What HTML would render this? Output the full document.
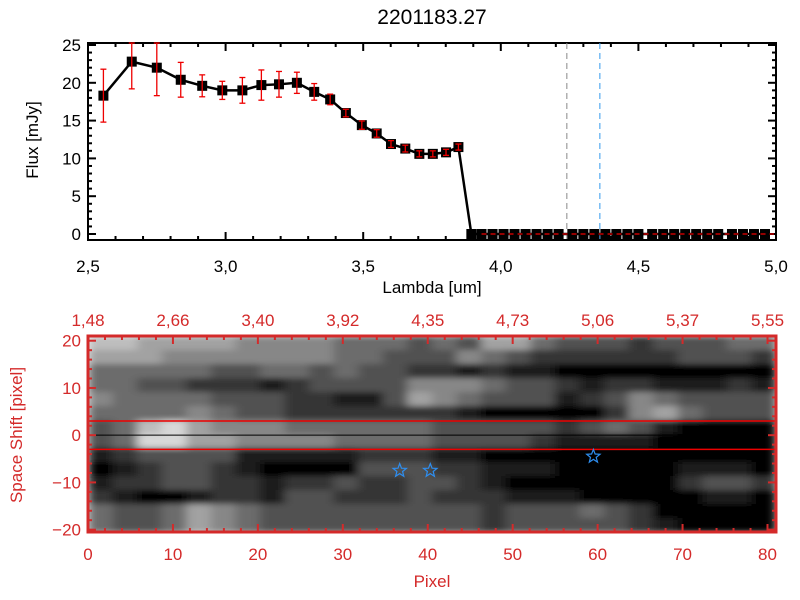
<!DOCTYPE html>
<html><head><meta charset="utf-8"><style>
html,body{margin:0;padding:0;background:#fff;}
svg{display:block;font-family:"Liberation Sans","DejaVu Sans",sans-serif;}
</style></head><body>
<svg id="chart" width="800" height="600" viewBox="0 0 800 600" xmlns="http://www.w3.org/2000/svg">
<defs>
<filter id="blur" x="0" y="0" width="1" height="1"><feGaussianBlur stdDeviation="5,3" edgeMode="duplicate"/></filter>
<clipPath id="imgclip"><rect x="88" y="336" width="688" height="196"/></clipPath>
</defs>
<rect width="800" height="600" fill="#fff"/>
<text x="432" y="24" font-size="21" text-anchor="middle" fill="#000">2201183.27</text>
<g id="top"></g>
<g id="bot"></g>
</svg>
<script>
const lambdas=[2.556,2.659,2.750,2.837,2.915,2.988,3.061,3.130,3.194,3.259,3.322,3.380,3.437,3.495,3.549,3.601,3.653,3.704,3.753,3.801,3.846,3.893,
3.93,3.97,4.01,4.05,4.09,4.13,4.17,4.21,4.26,4.30,4.34,4.38,4.42,4.46,4.50,4.55,4.59,4.63,4.67,4.71,4.75,4.79,4.84,4.88,4.92,4.96];
const flux=[18.3,22.8,22.0,20.4,19.6,19.0,19.0,19.7,19.8,20.0,18.8,17.8,16.0,14.4,13.3,11.9,11.3,10.6,10.6,10.8,11.5,
0,0,0,0,0,0,0,0,0,0,0,0,0,0,0,0,0,0,0,0,0,0,0,0,0,0,0];
const fluxErr=[3.5,3.6,3.7,2.3,1.45,1.2,1.7,2.0,1.7,1.4,1.1,0.7,0.5,0.55,0.5,0.45,0.45,0.4,0.4,0.4,0.4,
0,0,0,0,0,0,0,0,0,0,0,0,0,0,0,0,0,0,0,0,0,0,0,0,0,0,0];
const xTicks=["2.5","3.0","3.5","4.0","4.5","5.0"];
const yTicks=["0","5","10","15","20","25"];
const vLines=[4.24,4.36];
const pixTicks=["0","10","20","30","40","50","60","70","80"];
const topLabels=["1.48","2.66","3.40","3.92","4.35","4.73","5.06","5.37","5.55"];
const shiftTicks=["20","10","0","-10","-20"];
const heat=[
"7766665555444343664333233344",
"6665555555443335432222223332",
"4444433443433221211000000000",
"4433222123333555433212211121",
"5444433322113654333123543333",
"4444543322222221000002564333",
"3478655544444433333234310000",
"3488665555444433332111100000",
"1233331111122211000000000000",
"0123321000033322111000001110",
"1223322122322332100000002332",
"2100122133222322211100000110",
"4334654333333333233343200000",
"4334654333333333233333210000"];
const stars=[[36.7,-7.5],[40.3,-7.5],[59.5,-4.5]];
const NS="http://www.w3.org/2000/svg";
function mk(p,t,a){const e=document.createElementNS(NS,t);for(const k in a)e.setAttribute(k,a[k]);p.appendChild(e);return e;}
const FS=17;
// ---- top plot
const T=document.getElementById('top');
const L=88,R=776,TT=43,TB=240;
const sx=v=>L+(v-2.5)/2.5*(R-L);
const sy=v=>234-v*7.56;
const frame=mk(T,'rect',{x:L,y:TT,width:R-L,height:TB-TT,fill:'none',stroke:'#000','stroke-width':2});

for(let i=0;i<=25;i++){const v=2.5+i*0.1,x=sx(v),len=i%5==0?8:4;
 mk(T,'line',{x1:x,x2:x,y1:TB,y2:TB-len,stroke:'#000','stroke-width':2});
 mk(T,'line',{x1:x,x2:x,y1:TT,y2:TT+len,stroke:'#000','stroke-width':2});}
xTicks.forEach(s=>{const t=mk(T,'text',{x:sx(+s),y:272,'font-size':FS,'text-anchor':'middle'});t.textContent=s.replace('.',',');
 });
for(let v=0;v<=26;v++){const y=sy(v);if(y<TT)continue;const len=v%5==0?8:4;
 mk(T,'line',{x1:L,x2:L+len,y1:y,y2:y,stroke:'#000','stroke-width':2});
 mk(T,'line',{x1:R,x2:R-len,y1:y,y2:y,stroke:'#000','stroke-width':2});}
yTicks.forEach(s=>{const t=mk(T,'text',{x:81,y:sy(+s)+6,'font-size':FS,'text-anchor':'end'});t.textContent=s;
 });
let t=mk(T,'text',{x:432,y:293,'font-size':FS,'text-anchor':'middle'});t.textContent='Lambda [um]';

t=mk(T,'text',{x:0,y:0,'font-size':FS,'text-anchor':'middle',transform:'translate(38,140) rotate(-90)'});t.textContent='Flux [mJy]';

const vc=['#888','#3399ee'];
vLines.forEach((v,i)=>{const l=mk(T,'line',{x1:sx(v),x2:sx(v),y1:TT,y2:TB,stroke:vc[i],'stroke-width':1,'stroke-dasharray':'6,4'});
 });
const pl=mk(T,'polyline',{points:lambdas.map((v,i)=>sx(v)+','+sy(flux[i])).join(' '),fill:'none',stroke:'#000','stroke-width':2.5});

lambdas.forEach((v,i)=>{const x=sx(v);
 const sq=mk(T,'rect',{x:x-5,y:sy(flux[i])-5,width:10,height:10,fill:'#000'});
 
 if(fluxErr[i]>0){const y1=Math.max(TT,sy(flux[i]+fluxErr[i])),y2=sy(flux[i]-fluxErr[i]);
  const g=mk(T,'g',{stroke:'#e00','stroke-width':1.3});
  
  mk(g,'line',{x1:x,x2:x,y1:y1,y2:y2});mk(g,'line',{x1:x-3,x2:x+3,y1:y1,y2:y1});mk(g,'line',{x1:x-3,x2:x+3,y1:y2,y2:y2});}});
const zl=mk(T,'line',{x1:sx(3.93),x2:R-2,y1:sy(0),y2:sy(0),stroke:'#e00','stroke-width':1.3,'stroke-dasharray':'5,4'});

// ---- bottom image
const B=document.getElementById('bot');
const BL=88,BR=776,BT=336,BB=532,XMAX=81,YMAX=21,YMIN=-20.5;
const px=v=>BL+v/XMAX*(BR-BL);
const py=v=>BT+(YMAX-v)/(YMAX-YMIN)*(BB-BT);
const nr=heat.length,nc=heat[0].length,cw=(BR-BL)/nc,ch=(BB-BT)/nr;
const clipG=mk(B,'g',{'clip-path':'url(#imgclip)'});
const HG=mk(clipG,'g',{filter:'url(#blur)'});

heat.forEach((row,r)=>{for(let c=0;c<nc;c++){const g=Math.round(+row[c]*27);
 const cell=mk(HG,'rect',{x:BL+c*cw,y:BT+r*ch,width:cw+0.6,height:ch+0.6,fill:`rgb(${g},${g},${g})`});
 }});
[3,-3].forEach(v=>{const l=mk(B,'line',{x1:BL,x2:BR,y1:py(v),y2:py(v),stroke:'#e00','stroke-width':1.5});
 });
let cl=mk(B,'line',{x1:BL,x2:BR,y1:py(0),y2:py(0),stroke:'#000','stroke-width':1});

stars.forEach(s=>{const cx=px(s[0]),cy=py(s[1]);let pts=[];for(let k=0;k<10;k++){const a=-Math.PI/2+k*Math.PI/5,rr=k%2?3:7;pts.push((cx+rr*Math.cos(a)).toFixed(1)+','+(cy+rr*Math.sin(a)).toFixed(1));}
 const st=mk(B,'polygon',{points:pts.join(' '),fill:'none',stroke:'#2e8ef0','stroke-width':1.2});
 });
const RC='#d42a2a';
const bf=mk(B,'rect',{x:BL,y:BT,width:BR-BL,height:BB-BT,fill:'none',stroke:RC,'stroke-width':3});

for(let v=0;v<=80;v+=2){const x=px(v),len=v%10==0?8:4;
 mk(B,'line',{x1:x,x2:x,y1:BB,y2:BB-len,stroke:RC,'stroke-width':2});
 mk(B,'line',{x1:x,x2:x,y1:BT,y2:BT+len,stroke:RC,'stroke-width':2});}
for(let v=-20;v<=20;v+=2){const y=py(v),len=v%10==0?8:4;
 mk(B,'line',{x1:BL,x2:BL+len,y1:y,y2:y,stroke:RC,'stroke-width':2});
 mk(B,'line',{x1:BR,x2:BR-len,y1:y,y2:y,stroke:RC,'stroke-width':2});}
pixTicks.forEach(s=>{const tt=mk(B,'text',{x:px(+s),y:560,'font-size':FS,'text-anchor':'middle',fill:RC});tt.textContent=s;
 });
topLabels.forEach((s,i)=>{const tt=mk(B,'text',{x:px(i*10),y:326,'font-size':FS,'text-anchor':'middle',fill:RC});tt.textContent=s.replace('.',',');
 });
shiftTicks.forEach(s=>{const tt=mk(B,'text',{x:81,y:py(+s)+6,'font-size':FS,'text-anchor':'end',fill:RC});tt.textContent=s.replace('-','\u2212');
 });
t=mk(B,'text',{x:432,y:587,'font-size':FS,'text-anchor':'middle',fill:RC});t.textContent='Pixel';

t=mk(B,'text',{x:0,y:0,'font-size':FS,'text-anchor':'middle',fill:RC,transform:'translate(22,435) rotate(-90)'});t.textContent='Space Shift [pixel]';

</script>
</body></html>
